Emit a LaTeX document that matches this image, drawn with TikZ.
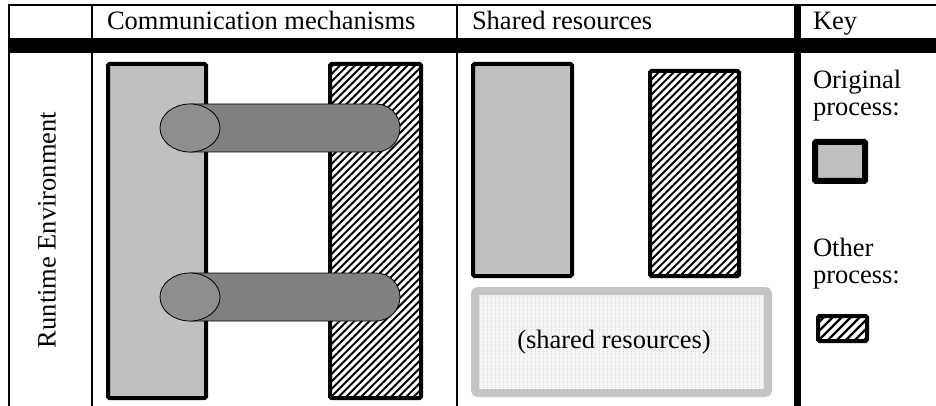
\documentclass[tikz,border=0pt]{standalone}
\usepackage{fontspec}
\setmainfont{Liberation Serif}
\usetikzlibrary{shapes.misc,shapes.geometric}
\definecolor{procgray}{HTML}{C0C0C0}
\definecolor{tubegray}{HTML}{808080}
\definecolor{capgray}{HTML}{8E8E8E}
\definecolor{resborder}{HTML}{C4C4C4}
\definecolor{resfill}{HTML}{F6F6F6}
\definecolor{resline}{HTML}{DCDCDC}
\begin{document}
\begin{tikzpicture}[x=1pt,y=-1pt,
  every node/.style={inner sep=0pt, outer sep=0pt},
  txt/.style={font=\fontsize{26.5}{30}\selectfont},
  lbl/.style={txt, anchor=base west},
  hatchfill/.style={path picture={\foreach \k in {-60,...,20}{\draw[line width=#1/4] ([xshift=\k*#1]path picture bounding box.south west) -- ++(500pt,500pt);}}},
  origbox/.style={draw=black, line width=4pt, fill=procgray, rounded corners=1.5pt, anchor=north west},
  otherbox/.style={draw=black, line width=4pt, fill=white, rounded corners=1.5pt, anchor=north west, hatchfill=7.5pt},
  tube/.style={rounded rectangle, rounded rectangle west arc=none, draw=black, line width=0.8pt, fill=tubegray, anchor=west, minimum width=210pt, minimum height=48pt},
  tubecap/.style={ellipse, draw=black, line width=0.8pt, fill=capgray, minimum width=60pt, minimum height=48pt},
  resbox/.style={draw=resborder, line width=8pt, fill=resfill, rounded corners=3pt, anchor=north west,
    path picture={\foreach \k in {0,...,80}{\draw[resline, line width=0.6pt, dash pattern=on 1.2pt off 1.2pt] ([xshift=\k*4pt]path picture bounding box.south west) -- ([xshift=\k*4pt]path picture bounding box.north west);}}},
  rule/.style={line width=2pt},
]
\useasboundingbox (0,0) rectangle (936,406);
% table rules
\draw[rule] (8,5.5) -- (936,5.5);
\fill (8,38) rectangle (936,53);
\draw[rule] (9,4.5) -- (9,406);
\draw[rule] (92,4.5) -- (92,406);
\draw[rule] (456.5,4.5) -- (456.5,406);
\draw[line width=7pt] (797,4.5) -- (797,406);
% headers
\node[lbl] (h1) at (107,30) {Communication mechanisms};
\node[lbl] (h2) at (472,30) {Shared resources};
\node[lbl] (h3) at (813,30) {Key};
\node[txt, rotate=90] (rt) at (47,230) {Runtime Environment};
% communication mechanisms
\node[origbox, minimum width=98pt, minimum height=334pt] (p1) at (108,64) {};
\node[otherbox, minimum width=91pt, minimum height=334pt] (p2) at (330,64) {};
\node[tube] (t1) at (190,128) {};
\node[tubecap] (c1) at (190,128) {};
\node[tube] (t2) at (190,297) {};
\node[tubecap] (c2) at (190,297) {};
% shared resources
\node[origbox, minimum width=99pt, minimum height=212pt] (s1) at (473,64) {};
\node[otherbox, minimum width=89pt, minimum height=205pt] (s2) at (650,71) {};
\node[resbox, minimum width=293pt, minimum height=102pt] (res) at (475,291) {};
\node[txt] (reslbl) at (614,342) {(shared resources)};
% key
\node[lbl] (k1) at (813,89) {Original};
\node[lbl] (k2) at (813,116) {process:};
\node[draw=black, line width=6pt, fill=procgray, rounded corners=1pt, anchor=north west, minimum width=50pt, minimum height=39pt] (kg) at (815,142) {};
\node[lbl] (k3) at (813,256) {Other};
\node[lbl] (k4) at (813,283) {process:};
\node[draw=black, line width=4pt, fill=white, rounded corners=1.5pt, anchor=north west, minimum width=49pt, minimum height=25pt, hatchfill=9pt] (kh) at (818,316) {};
\end{tikzpicture}
\end{document}
